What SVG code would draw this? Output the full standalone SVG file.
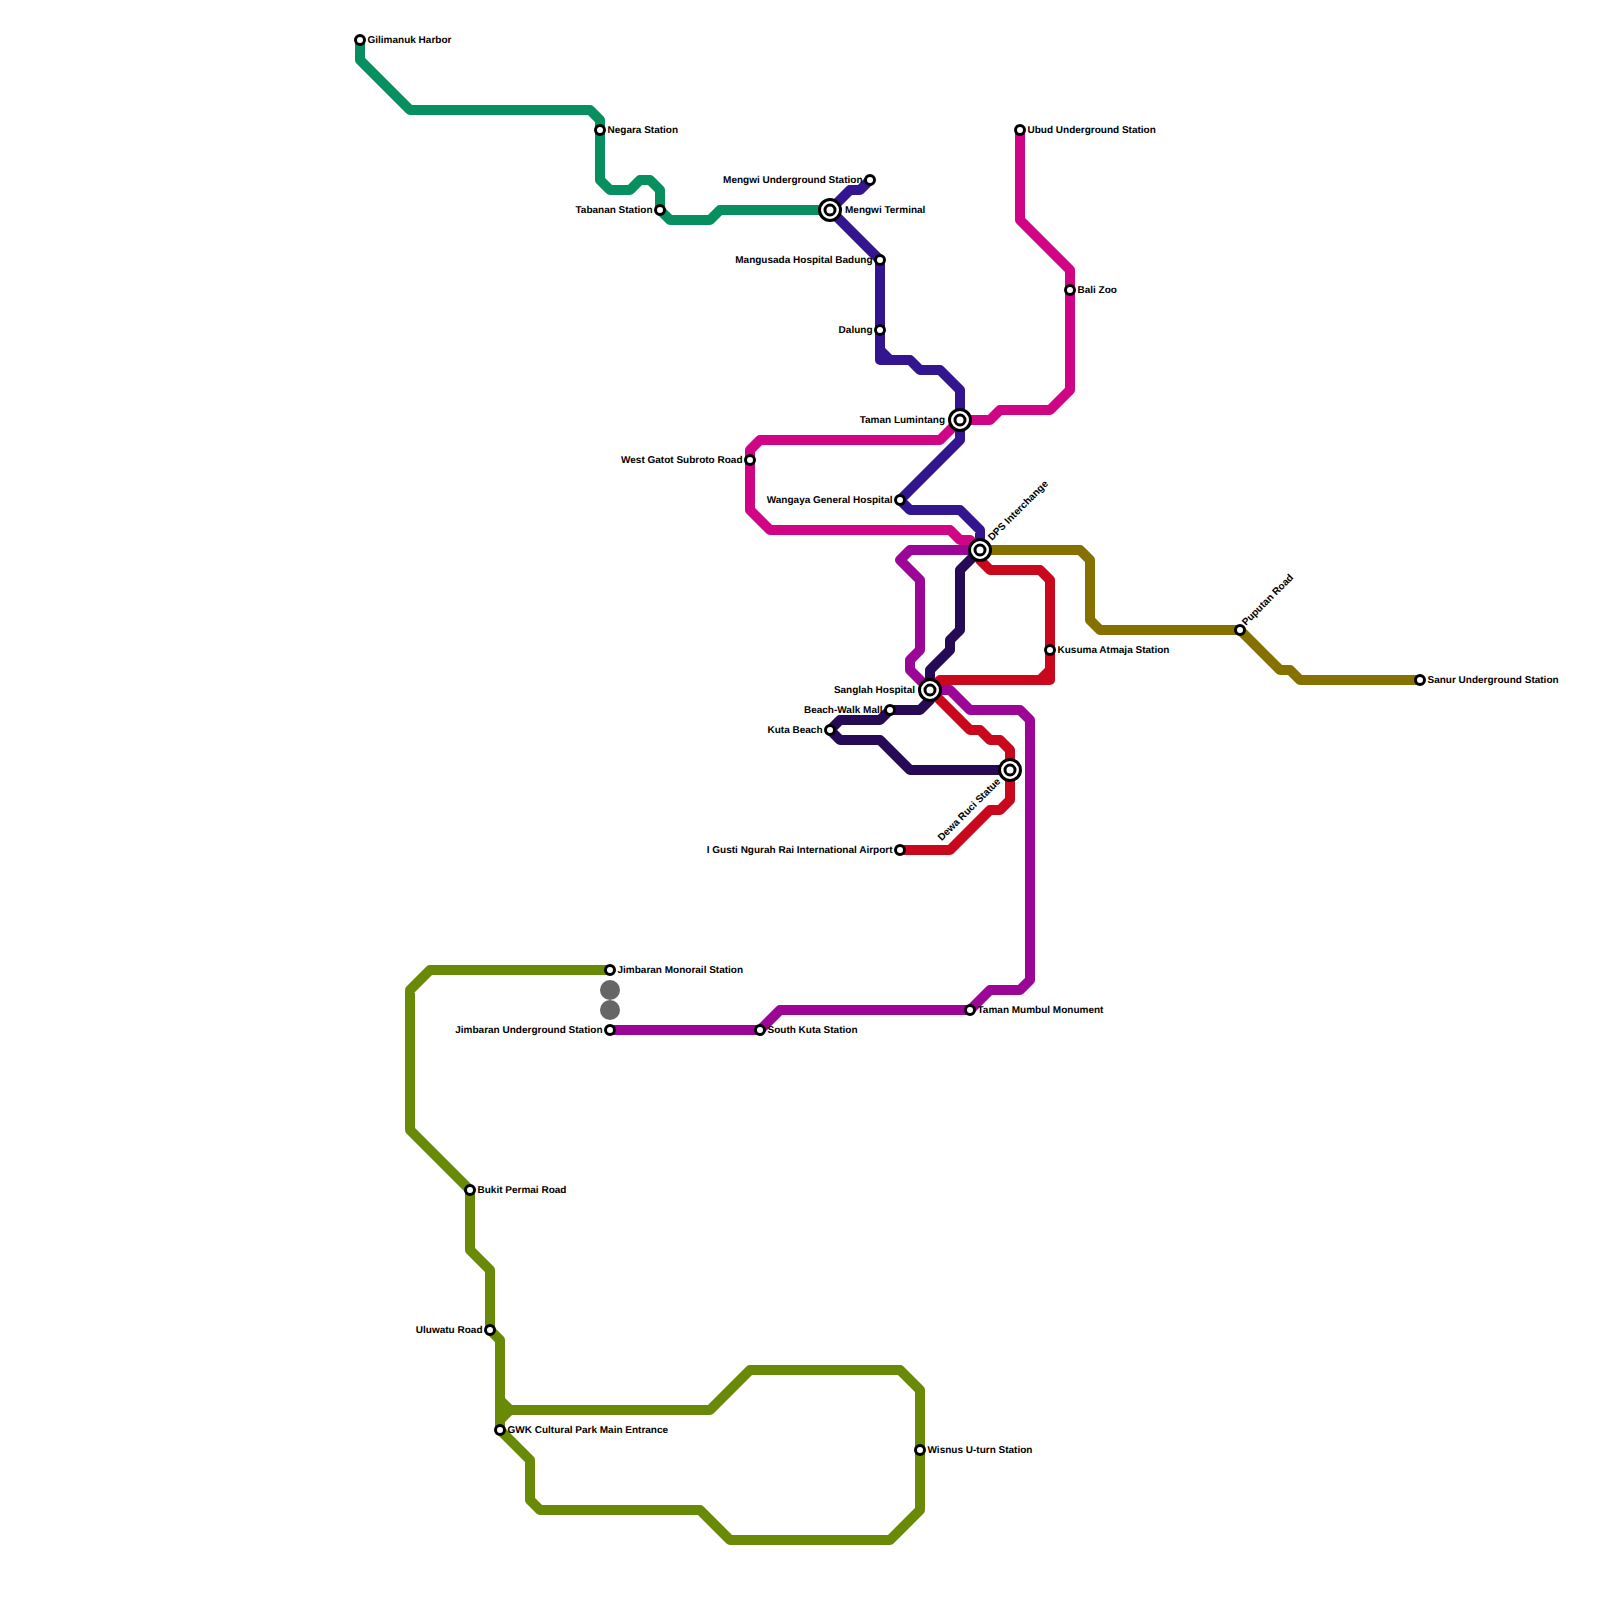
<svg xmlns="http://www.w3.org/2000/svg" width="1600" height="1600" viewBox="0 0 1600 1600">
<style>
.l{fill:none;stroke-width:10;stroke-linejoin:round;stroke-linecap:round}
.s{fill:#fff;stroke:#000;stroke-width:3}
.o{fill:#fff;stroke:#000;stroke-width:3}
text{font-family:"Liberation Sans",Arial,sans-serif;font-size:10px;font-weight:700;fill:#000;text-rendering:geometricPrecision}
.e{text-anchor:end}
</style>
<rect width="1600" height="1600" fill="#fff"/>
<g id="connectors">
<path class="l" stroke="#088f5f" d="M360 40V60L410 110H590L600 120V180L610 190H630L640 180H650L660 190V210L670 220H710L720 210H830"/>
<path class="l" stroke="#33158f" d="M870 180L860 190H850L830 210L880 260V360H910L920 370H940L960 390V440L900 500L910 510H960L980 530V550M880 350L890 360"/>
<path class="l" stroke="#cf0585" d="M1020 130V220L1070 270V390L1050 410H1000L990 420H960L940 440H760L750 450V510L770 530H950L960 540H970L980 550"/>
<path class="l" stroke="#9c0696" d="M980 550H910L900 560L920 580V650L910 660V670L930 690H950L970 710H1020L1030 720V980L1020 990H990L970 1010H780L760 1030H610"/>
<path class="l" stroke="#260a55" d="M980 550L960 570V630L950 640V650L930 670V700L920 710H890L880 720H840L830 730L840 740H880L910 770H1010"/>
<path class="l" stroke="#c9081d" d="M980 550V560L990 570H1040L1050 580V680H940L930 690L970 730H980L990 740H1000L1010 750V800L1000 810H990L950 850H900M1050 670L1040 680"/>
<path class="l" stroke="#857000" d="M980 550H1080L1090 560V620L1100 630H1240L1280 670H1290L1300 680H1420"/>
<path class="l" stroke="#688a06" d="M610 970H430L410 990V1130L470 1190V1250L490 1270V1330L500 1340V1430L530 1460V1500L540 1510H700L730 1540H890L920 1510V1390L900 1370H750L710 1410H510L500 1400M510 1410L500 1420"/>
<circle cx="610" cy="990" r="10" fill="#666"/>
<circle cx="610" cy="1010" r="10" fill="#666"/>
</g>
<g id="gilimanuk"><circle class="s" cx="360" cy="40" r="4.5"/><text x="367.5" y="42.5">Gilimanuk Harbor</text></g>
<g id="negara"><circle class="s" cx="600" cy="130" r="4.5"/><text x="607.5" y="132.5">Negara Station</text></g>
<g id="tabanan"><circle class="s" cx="660" cy="210" r="4.5"/><text class="e" x="652.5" y="212.5">Tabanan Station</text></g>
<g id="mengwi-terminal"><circle class="o" cx="830" cy="210" r="10.5"/><circle class="o" cx="830" cy="210" r="5"/><text x="845" y="212.5">Mengwi Terminal</text></g>
<g id="mengwi-underground"><circle class="s" cx="870" cy="180" r="4.5"/><text class="e" x="862.5" y="182.5">Mengwi Underground Station</text></g>
<g id="mangusada"><circle class="s" cx="880" cy="260" r="4.5"/><text class="e" x="872.5" y="262.5">Mangusada Hospital Badung</text></g>
<g id="dalung"><circle class="s" cx="880" cy="330" r="4.5"/><text class="e" x="872.5" y="332.5">Dalung</text></g>
<g id="taman-lumintang"><circle class="o" cx="960" cy="420" r="10.5"/><circle class="o" cx="960" cy="420" r="5"/><text class="e" x="945" y="422.5">Taman Lumintang</text></g>
<g id="west-gatot"><circle class="s" cx="750" cy="460" r="4.5"/><text class="e" x="742.5" y="462.5">West Gatot Subroto Road</text></g>
<g id="wangaya"><circle class="s" cx="900" cy="500" r="4.5"/><text class="e" x="892.5" y="502.5">Wangaya General Hospital</text></g>
<g id="dps"><circle class="o" cx="980" cy="550" r="10.5"/><circle class="o" cx="980" cy="550" r="5"/><text transform="translate(992 541) rotate(-45)">DPS Interchange</text></g>
<g id="sanglah"><circle class="o" cx="930" cy="690" r="10.5"/><circle class="o" cx="930" cy="690" r="5"/><text class="e" x="915" y="692.5">Sanglah Hospital</text></g>
<g id="beach-walk"><circle class="s" cx="890" cy="710" r="4.5"/><text class="e" x="882.5" y="712.5">Beach-Walk Mall</text></g>
<g id="kuta"><circle class="s" cx="830" cy="730" r="4.5"/><text class="e" x="822.5" y="732.5">Kuta Beach</text></g>
<g id="dewa-ruci"><circle class="o" cx="1010" cy="770" r="10.5"/><circle class="o" cx="1010" cy="770" r="5"/><text class="e" transform="translate(1001 782) rotate(-45)">Dewa Ruci Statue</text></g>
<g id="airport"><circle class="s" cx="900" cy="850" r="4.5"/><text class="e" x="892.5" y="852.5">I Gusti Ngurah Rai International Airport</text></g>
<g id="kusuma"><circle class="s" cx="1050" cy="650" r="4.5"/><text x="1057.5" y="652.5">Kusuma Atmaja Station</text></g>
<g id="puputan"><circle class="s" cx="1240" cy="630" r="4.5"/><text transform="translate(1246 626) rotate(-45)">Puputan Road</text></g>
<g id="sanur"><circle class="s" cx="1420" cy="680" r="4.5"/><text x="1427.5" y="682.5">Sanur Underground Station</text></g>
<g id="ubud"><circle class="s" cx="1020" cy="130" r="4.5"/><text x="1027.5" y="132.5">Ubud Underground Station</text></g>
<g id="bali-zoo"><circle class="s" cx="1070" cy="290" r="4.5"/><text x="1077.5" y="292.5">Bali Zoo</text></g>
<g id="taman-mumbul"><circle class="s" cx="970" cy="1010" r="4.5"/><text x="977.5" y="1012.5">Taman Mumbul Monument</text></g>
<g id="south-kuta"><circle class="s" cx="760" cy="1030" r="4.5"/><text x="767.5" y="1032.5">South Kuta Station</text></g>
<g id="jimbaran-underground"><circle class="s" cx="610" cy="1030" r="4.5"/><text class="e" x="602.5" y="1032.5">Jimbaran Underground Station</text></g>
<g id="jimbaran-monorail"><circle class="s" cx="610" cy="970" r="4.5"/><text x="617.5" y="972.5">Jimbaran Monorail Station</text></g>
<g id="bukit-permai"><circle class="s" cx="470" cy="1190" r="4.5"/><text x="477.5" y="1192.5">Bukit Permai Road</text></g>
<g id="uluwatu"><circle class="s" cx="490" cy="1330" r="4.5"/><text class="e" x="482.5" y="1332.5">Uluwatu Road</text></g>
<g id="gwk"><circle class="s" cx="500" cy="1430" r="4.5"/><text x="507.5" y="1432.5">GWK Cultural Park Main Entrance</text></g>
<g id="wisnus"><circle class="s" cx="920" cy="1450" r="4.5"/><text x="927.5" y="1452.5">Wisnus U-turn Station</text></g>
</svg>
